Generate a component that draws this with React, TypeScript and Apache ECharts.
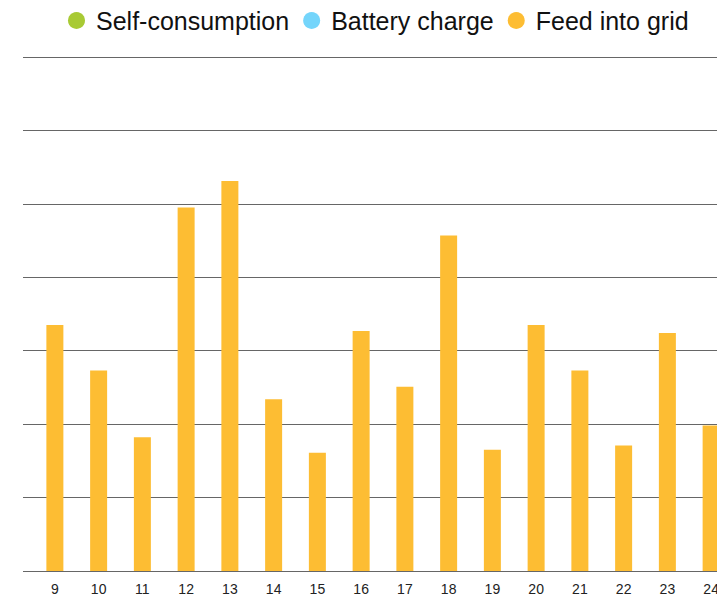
import React, { useEffect, useRef } from "react";
import * as echarts from "echarts";

const hours = ["9", "10", "11", "12", "13", "14", "15", "16", "17", "18", "19", "20", "21", "22", "23", "24"];
const selfConsumption: number[] = [];
const batteryCharge: number[] = [];
const feedIntoGrid = [3.35, 2.73, 1.82, 4.95, 5.31, 2.34, 1.61, 3.27, 2.51, 4.57, 1.65, 3.35, 2.73, 1.71, 3.24, 1.98];

const FONT = "'Liberation Sans', Arial, Helvetica, sans-serif";

export default function App() {
  const ref = useRef<HTMLDivElement>(null);
  useEffect(() => {
    if (!ref.current) return;
    const chart = echarts.init(ref.current, undefined, { renderer: "svg" });
    chart.setOption({
      animation: false,
      backgroundColor: "#ffffff",
      legend: {
        left: 68,
        top: 8,
        padding: 0,
        itemWidth: 29,
        itemHeight: 17,
        itemGap: 14,
        icon: "circle",
        textStyle: { fontFamily: FONT, fontSize: 25, color: "#111111" },
        data: ["Self-consumption", "Battery charge", "Feed into grid"],
      },
      grid: [
        { left: 23, right: 16, top: 57, bottom: 28 },
        { left: 33, right: 0, top: 57, bottom: 28 },
      ],
      xAxis: [
        { type: "value", gridIndex: 0, show: false, min: 0, max: 1 },
        {
          type: "category",
          gridIndex: 1,
          data: hours,
          axisLine: { show: false },
          axisTick: { show: false },
          axisLabel: { margin: 11, fontFamily: FONT, fontSize: 14, color: "#222222" },
        },
      ],
      yAxis: [
        {
          type: "value",
          gridIndex: 0,
          min: 0,
          max: 7,
          interval: 1,
          axisLine: { show: false },
          axisTick: { show: false },
          axisLabel: { show: false },
          splitLine: { show: true, lineStyle: { color: "#666666", width: 1 } },
        },
        {
          type: "value",
          gridIndex: 1,
          min: 0,
          max: 7,
          interval: 1,
          show: false,
          splitLine: { show: false },
        },
      ],
      series: [
        { name: "Self-consumption", type: "bar", stack: "total", xAxisIndex: 1, yAxisIndex: 1, barWidth: 17, itemStyle: { color: "#A8CA34" }, data: selfConsumption },
        { name: "Battery charge", type: "bar", stack: "total", xAxisIndex: 1, yAxisIndex: 1, barWidth: 17, itemStyle: { color: "#74D5FB" }, data: batteryCharge },
        { name: "Feed into grid", type: "bar", stack: "total", xAxisIndex: 1, yAxisIndex: 1, barWidth: 17, itemStyle: { color: "#FDBD33" }, data: feedIntoGrid },
      ],
    });
    return () => chart.dispose();
  }, []);
  return (
    <div style={{ position: "absolute", left: 0, top: 0, width: 717, height: 599, overflow: "hidden" }}>
      <div ref={ref} style={{ width: 733, height: 599 }} />
    </div>
  );
}
